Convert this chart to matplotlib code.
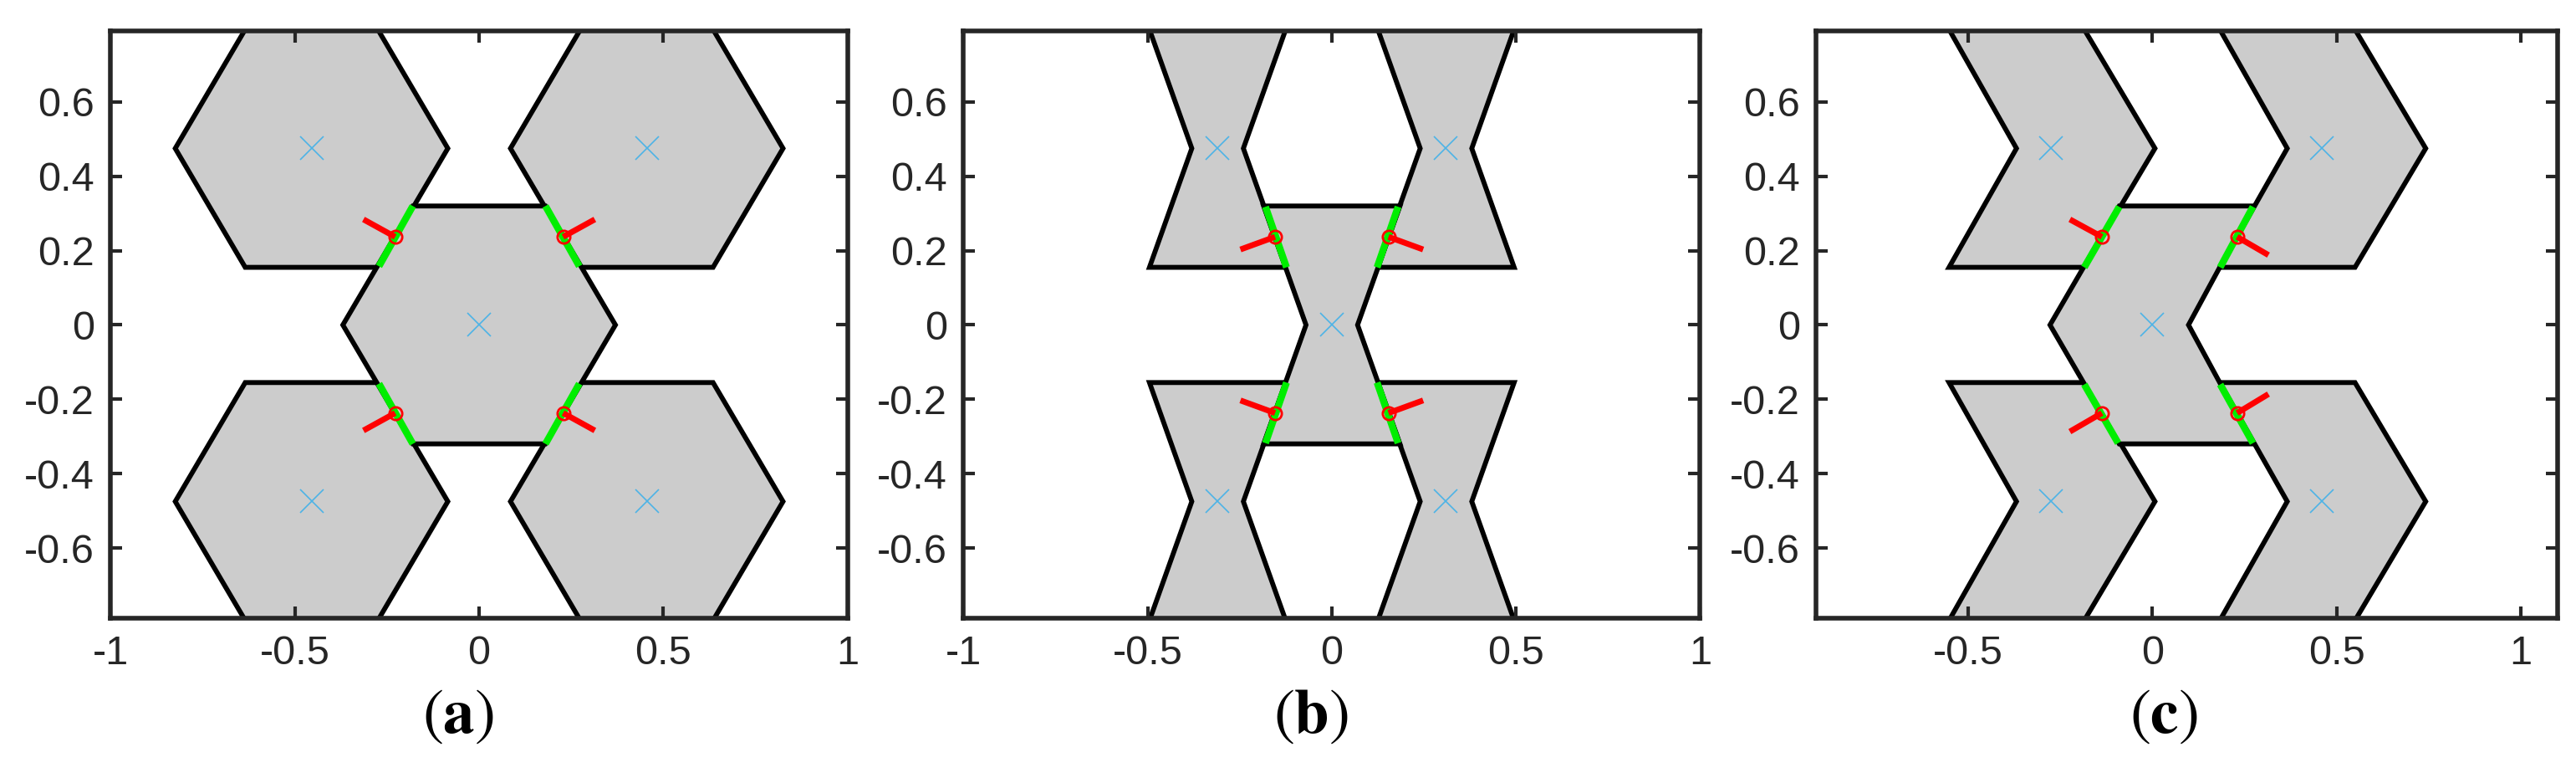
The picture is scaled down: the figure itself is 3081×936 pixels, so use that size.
import matplotlib
matplotlib.use("Agg")
import matplotlib.pyplot as plt
from matplotlib.patches import Polygon

plt.rcParams['font.family'] = ['Liberation Sans', 'DejaVu Sans']
plt.rcParams['mathtext.fontset'] = 'stix'

# shapes: vertex offsets relative to centre
hex_shape = [(-0.18, 0.32), (0.18, 0.32), (0.37, 0), (0.18, -0.32), (-0.18, -0.32), (-0.37, 0)]
bow_shape = [(-0.185, 0.32), (0.185, 0.32), (0.07, 0), (0.185, -0.32), (-0.185, -0.32), (-0.07, 0)]
chev_c = [(-0.09, 0.32), (0.273, 0.32), (0.098, 0), (0.273, -0.32), (-0.09, -0.32), (-0.278, 0)]
chev_n = [(-0.277, 0.32), (0.09, 0.32), (0.282, 0), (0.09, -0.32), (-0.277, -0.32), (-0.094, 0)]

centers_a = [(-0.455, 0.475), (0.455, 0.475), (-0.455, -0.475), (0.455, -0.475)]
centers_b = [(-0.31, 0.475), (0.31, 0.475), (-0.31, -0.475), (0.31, -0.475)]
centers_c = [(-0.275, 0.475), (0.46, 0.475), (-0.275, -0.475), (0.46, -0.475)]

# shared edges (green), midpoints (red circles), normal ends (red lines)
green_a = [((-0.18, 0.32), (-0.272, 0.158)), ((0.18, 0.32), (0.272, 0.158)),
           ((-0.18, -0.32), (-0.272, -0.158)), ((0.18, -0.32), (0.272, -0.158))]
mid_a = [(-0.228, 0.237), (0.228, 0.237), (-0.228, -0.237), (0.228, -0.237)]
nrm_a = [(-0.314, 0.284), (0.314, 0.284), (-0.314, -0.284), (0.314, -0.284)]

green_b = [((-0.18, 0.318), (-0.123, 0.155)), ((0.18, 0.318), (0.123, 0.155)),
           ((-0.18, -0.318), (-0.123, -0.155)), ((0.18, -0.318), (0.123, -0.155))]
mid_b = [(-0.154, 0.237), (0.154, 0.237), (-0.154, -0.237), (0.154, -0.237)]
nrm_b = [(-0.248, 0.203), (0.248, 0.203), (-0.248, -0.203), (0.248, -0.203)]

green_c = [((-0.09, 0.318), (-0.185, 0.155)), ((0.273, 0.318), (0.184, 0.155)),
           ((-0.185, -0.16), (-0.093, -0.318)), ((0.184, -0.16), (0.273, -0.318))]
mid_c = [(-0.137, 0.237), (0.23, 0.237), (-0.137, -0.237), (0.23, -0.237)]
nrm_c = [(-0.224, 0.284), (0.315, 0.188), (-0.224, -0.287), (0.315, -0.186)]

xticks_ab = [-1, -0.5, 0, 0.5, 1]
xticks_c = [-0.5, 0, 0.5, 1]
yticks = [-0.6, -0.4, -0.2, 0, 0.2, 0.4, 0.6]

def lbl(v):
    return '%g' % v

panels = [
    dict(c_shape=hex_shape, n_shape=hex_shape, centers=centers_a, green=green_a, mid=mid_a, nrm=nrm_a,
         xlim=(-1, 1), xt=xticks_ab, label=r'$(\mathbf{a})$', left=0.043),
    dict(c_shape=bow_shape, n_shape=bow_shape, centers=centers_b, green=green_b, mid=mid_b, nrm=nrm_b,
         xlim=(-1, 1), xt=xticks_ab, label=r'$(\mathbf{b})$', left=0.374),
    dict(c_shape=chev_c, n_shape=chev_n, centers=centers_c, green=green_c, mid=mid_c, nrm=nrm_c,
         xlim=(-0.913, 1.1), xt=xticks_c, label=r'$(\mathbf{c})$', left=0.705),
]

fig = plt.figure(figsize=(30.81, 9.36), dpi=100)
for p in panels:
    w = 0.286 * (p['xlim'][1] - p['xlim'][0]) / 2.0
    ax = fig.add_axes([p['left'], 0.21, w, 0.75])
    ax.set_xlim(*p['xlim'])
    ax.set_ylim(-0.79, 0.79)
    def draw(shape, cx, cy):
        pts = [(cx + dx, cy + dy) for dx, dy in shape]
        ax.add_patch(Polygon(pts, closed=True, facecolor='#cccccc', edgecolor='black', lw=4.2, joinstyle='miter'))
        ax.plot([cx], [cy], marker='x', color='#4db3e6', ms=20, mew=1.2)
    for cx, cy in p['centers']:
        draw(p['n_shape'], cx, cy)
    draw(p['c_shape'], 0, 0)
    for (a, b) in p['green']:
        ax.plot([a[0], b[0]], [a[1], b[1]], color='#00ee00', lw=6, solid_capstyle='butt')
    for m, n in zip(p['mid'], p['nrm']):
        ax.plot([m[0], n[0]], [m[1], n[1]], color='#ff0000', lw=5, solid_capstyle='butt')
        ax.plot([m[0]], [m[1]], marker='o', mfc='none', mec='#ff0000', ms=11, mew=2)
    ax.set_xticks(p['xt'])
    ax.set_xticklabels([lbl(v) for v in p['xt']])
    ax.set_yticks(yticks)
    ax.set_yticklabels([lbl(v) for v in yticks])
    ax.tick_params(direction='in', length=10, width=3, labelsize=35, colors='#262626',
                   top=True, right=True, pad=14)
    for s in ax.spines.values():
        s.set_linewidth(4)
        s.set_color('#262626')
    fig.text(p['left'] + 0.286 / 2 - 0.008, 0.085, p['label'], fontsize=54, ha='center', va='center')

fig.savefig('out.png', dpi=100)
